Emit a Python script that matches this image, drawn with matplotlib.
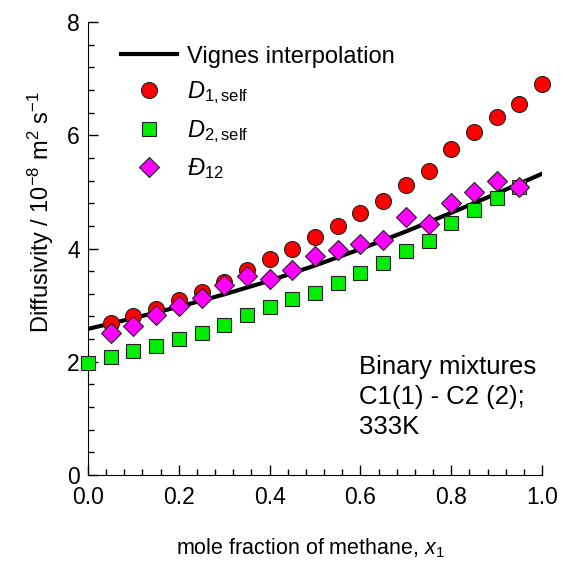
import numpy as np
import matplotlib
matplotlib.use('Agg')
from matplotlib import pyplot as plt
from matplotlib.ticker import MultipleLocator

plt.rcParams['font.family'] = ['Liberation Sans', 'DejaVu Sans']
plt.rcParams['mathtext.fontset'] = 'custom'
plt.rcParams['mathtext.rm'] = 'Liberation Sans'
plt.rcParams['mathtext.it'] = 'Liberation Sans:italic'

# data
x_d1 = [0.05, 0.10, 0.15, 0.20, 0.25, 0.30, 0.35, 0.40, 0.45, 0.50,
        0.55, 0.60, 0.65, 0.70, 0.75, 0.80, 0.85, 0.90, 0.95, 1.00]
d1_self = [2.68, 2.81, 2.93, 3.09, 3.24, 3.40, 3.62, 3.82, 3.99, 4.20,
           4.40, 4.63, 4.84, 5.12, 5.37, 5.75, 6.05, 6.33, 6.55, 6.91]

x_d2 = [0.00, 0.05, 0.10, 0.15, 0.20, 0.25, 0.30, 0.35, 0.40, 0.45,
        0.50, 0.55, 0.60, 0.65, 0.70, 0.75, 0.80, 0.85, 0.90, 0.95]
d2_self = [1.97, 2.09, 2.19, 2.28, 2.41, 2.50, 2.65, 2.83, 2.96, 3.10,
           3.22, 3.39, 3.57, 3.75, 3.96, 4.14, 4.45, 4.68, 4.89, 5.09]

x_d12 = [0.05, 0.10, 0.15, 0.20, 0.25, 0.30, 0.35, 0.40, 0.45, 0.50,
         0.55, 0.60, 0.65, 0.70, 0.75, 0.80, 0.85, 0.90, 0.95]
d12 = [2.51, 2.63, 2.82, 2.99, 3.13, 3.36, 3.52, 3.46, 3.62, 3.87,
       3.98, 4.08, 4.15, 4.56, 4.43, 4.81, 4.99, 5.20, 5.08]

x_vig = [0.0, 0.1, 0.2, 0.3, 0.4, 0.5, 0.6, 0.7, 0.8, 0.9, 1.0]
vignes = [2.58, 2.77, 2.97, 3.19, 3.43, 3.70, 3.99, 4.30, 4.63, 4.97, 5.32]

fig = plt.figure(figsize=(5.63, 5.66), dpi=100)
ax = fig.add_axes([88/563, 1-475/566, 454/563, 453/566])

ax.plot(x_vig, vignes, color='black', lw=3, label='Vignes interpolation', zorder=2)
ax.plot(x_d1, d1_self, 'o', ms=11.5, mfc='red', mec='#222222', mew=0.8,
        label=r'$\mathit{D}_{\mathrm{1,self}}$', zorder=3, clip_on=False)
ax.plot(x_d2, d2_self, 's', ms=9.8, mfc='#00ee00', mec='#222222', mew=0.8,
        label=r'$\mathit{D}_{\mathrm{2,self}}$', zorder=3, clip_on=False)
ax.plot(x_d12, d12, 'D', ms=10.5, mfc='#ff00ff', mec='#222222', mew=0.8,
        label=r'$\mathit{Đ}_{\mathrm{12}}$', zorder=4, clip_on=False)

ax.set_xlim(0, 1.0)
ax.set_ylim(0, 8)
ax.xaxis.set_major_locator(MultipleLocator(0.2))
ax.xaxis.set_minor_locator(MultipleLocator(0.04))
ax.yaxis.set_major_locator(MultipleLocator(2))
ax.yaxis.set_minor_locator(MultipleLocator(0.4))
ax.xaxis.set_major_formatter(matplotlib.ticker.FormatStrFormatter('%.1f'))
ax.spines['top'].set_visible(False)
ax.spines['right'].set_visible(False)
ax.tick_params(which='both', direction='in', labelsize=16.5, width=1)
ax.tick_params(which='major', length=7)
ax.tick_params(which='minor', length=4.5)
ax.tick_params(axis='x', pad=8)
ax.tick_params(axis='y', pad=6)

ax.set_xlabel(r'mole fraction of methane, $\mathit{x}_1$', fontsize=15.5, labelpad=20, x=0.49)
ax.set_ylabel(r'Diffusivity / 10$^{-8}$ m$^2$ s$^{-1}$', fontsize=17, labelpad=8, y=0.58)

ax.legend(loc='upper left', bbox_to_anchor=(0.025, 0.995), frameon=False,
          fontsize=17, handlelength=2.4, labelspacing=0.5, handletextpad=0.4)

ax.text(0.596, 0.265, 'Binary mixtures\nC1(1) - C2 (2);\n333K', transform=ax.transAxes,
        fontsize=18.5, va='top', ha='left', linespacing=1.32)

fig.savefig('out.png', dpi=100)
